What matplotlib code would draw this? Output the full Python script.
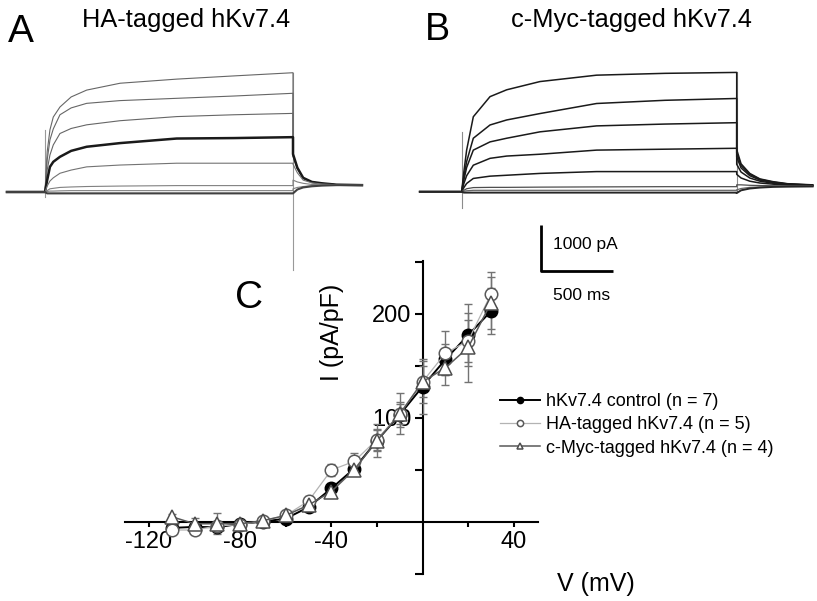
import matplotlib
matplotlib.use("Agg")
import matplotlib.pyplot as plt

plt.rcParams["font.family"] = ["Liberation Sans", "DejaVu Sans"]
plt.rcParams["axes.unicode_minus"] = False

# ---------------- panel C: I-V relation ----------------
voltage = [-110, -100, -90, -80, -70, -60, -50, -40, -30, -20, -10, 0, 10, 20, 30]

control_mean = [-6, -5, -5.4, -2, 0, 3, 14, 32, 51, 78, 103, 130, 156, 179.5, 202.5]
control_sem = [3, 3, 4, 2, 2, 2, 3, 5, 6, 10, 12, 26, 15, 30, 22]

ha_mean = [-8, -8, -4, -3, 1, 6, 20, 49.7, 58, 79, 104, 134.6, 162, 174, 219]
ha_sem = [3, 3, 3, 2, 2, 2, 5, 6, 8, 10, 20, 20, 21, 20, 21]

myc_mean = [4.8, -2, -2, -2, 1, 6, 16, 29, 50, 78, 103.5, 134.6, 148, 167.6, 210.6]
myc_sem = [3, 6, 10, 2, 2, 2, 3, 4, 5, 16, 10, 15, 17, 33, 25]

legend_labels = ["hKv7.4 control (n = 7)", "HA-tagged hKv7.4 (n = 5)",
                 "c-Myc-tagged hKv7.4 (n = 4)"]

# ---------------- panel A: HA-tagged traces (ms, pA) ----------------
a_pre = -262
a_step_end = 1708
a_t = [0, 15, 34, 57, 103, 180, 287, 517, 907, 1300, 1708]
a_traces = [
    [0, 880, 1360, 1640, 1860, 2080, 2230, 2380, 2470, 2540, 2610],
    [0, 700, 1140, 1380, 1690, 1840, 1940, 2000, 2050, 2100, 2160],
    [0, 480, 810, 1030, 1280, 1390, 1470, 1560, 1650, 1690, 1720],
    [0, 260, 550, 660, 770, 900, 990, 1070, 1170, 1180, 1200],
    [0, 130, 240, 310, 410, 480, 550, 590, 630, 630, 630],
    [0, 30, 70, 80, 100, 110, 120, 130, 140, 140, 140],
    [0, 10, 20, 20, 25, 30, 30, 30, 30, 30, 30],
    [0, -30, -30, -30, -30, -30, -30, -30, -30, -30, -30],
]
a_tail_t = [0, 30, 70, 130, 200, 300, 475]
a_tails = [
    [830, 530, 310, 220, 190, 160, 150],
    [800, 520, 305, 220, 185, 160, 150],
    [780, 510, 300, 215, 185, 160, 150],
    [830, 530, 310, 220, 190, 160, 150],
    [610, 420, 260, 200, 175, 160, 150],
    [260, 220, 190, 165, 160, 155, 150],
    [70, 100, 120, 140, 145, 150, 150],
    [-30, 55, 100, 125, 140, 150, 150],
]
a_on_artifact = [-110, 1360]
a_off_artifact = [-1710, 2610]

# ---------------- panel B: c-Myc-tagged traces (ms, pA) ----------------
b_pre = -289
b_step_end = 1894
b_t = [0, 15, 34, 80, 195, 310, 539, 929, 1400, 1894]
b_traces = [
    [0, 440, 910, 1640, 2080, 2230, 2410, 2550, 2590, 2610],
    [0, 330, 660, 1170, 1460, 1570, 1710, 1930, 2000, 2040],
    [0, 260, 530, 910, 1090, 1170, 1310, 1440, 1480, 1510],
    [0, 180, 350, 580, 730, 780, 820, 910, 930, 950],
    [0, 90, 180, 290, 340, 360, 400, 440, 440, 440],
    [0, 30, 65, 90, 95, 95, 100, 105, 110, 110],
    [0, 10, 20, 30, 30, 30, 30, 30, 30, 30],
    [0, -20, -20, -20, -20, -20, -20, -20, -20, -20],
]
b_tail_t = [0, 30, 90, 160, 250, 350, 523]
b_tails = [
    [920, 610, 400, 280, 220, 175, 150],
    [850, 570, 380, 270, 210, 170, 145],
    [760, 520, 350, 255, 200, 165, 140],
    [600, 430, 300, 230, 185, 160, 135],
    [380, 300, 230, 190, 165, 145, 130],
    [150, 150, 140, 135, 130, 125, 125],
    [40, 70, 95, 105, 115, 120, 120],
    [-30, 30, 70, 90, 105, 110, 115],
]
b_on_artifact = [-360, 1310]
b_off_artifact = [0, 2610]

scale_pa = 1000
scale_ms = 500

W, H = 817, 601
fig = plt.figure(figsize=(W / 100, H / 100), dpi=100)


def px_axes(left, top, right, bottom):
    return fig.add_axes([left / W, 1 - bottom / H, (right - left) / W, (bottom - top) / H])


def draw_traces(ax, pre, t_act, traces, step_end, tail_t, tails, colors, widths):
    for amp, tail, c, lw in zip(traces, tails, colors, widths):
        x = [pre, 0] + t_act + [step_end + t for t in tail_t]
        y = [0, 0] + amp + tail
        ax.plot(x, y, color=c, lw=lw, solid_joinstyle="round")


# pixel scale of the recordings: 500 ms = 72.6 px, 1000 pA = 45.7 px
PX_MS = 0.1452
PX_PA = 0.0457

# panel A
ax_a = px_axes(0, 45, 410, 280)
x0, y0 = 45, 192
ax_a.set_xlim((0 - x0) / PX_MS, (410 - x0) / PX_MS)
ax_a.set_ylim((y0 - 280) / PX_PA, (y0 - 45) / PX_PA)
ax_a.axis("off")
ax_a.plot([0, 0], a_on_artifact, color="0.6", lw=0.8)
ax_a.plot([a_step_end, a_step_end], a_off_artifact, color="0.6", lw=0.8)
draw_traces(ax_a, a_pre, a_t, a_traces, a_step_end, a_tail_t, a_tails,
            ["0.4", "0.4", "0.4", "0.1", "0.45", "0.5", "0.5", "0.25"],
            [0.8, 0.8, 0.8, 1.8, 0.8, 0.8, 0.8, 1.5])

# panel B
ax_b = px_axes(410, 45, 817, 310)
x0, y0 = 461.7, 191.7
ax_b.set_xlim((410 - x0) / PX_MS, (817 - x0) / PX_MS)
ax_b.set_ylim((y0 - 310) / PX_PA, (y0 - 45) / PX_PA)
ax_b.axis("off")
ax_b.plot([0, 0], b_on_artifact, color="0.55", lw=0.8)
ax_b.plot([b_step_end, b_step_end], b_off_artifact, color="0.55", lw=0.8)
draw_traces(ax_b, b_pre, b_t, b_traces, b_step_end, b_tail_t, b_tails,
            ["0.1"] * 5 + ["0.3", "0.4", "0.15"],
            [1.1, 1.1, 1.1, 1.1, 1.1, 0.9, 0.9, 1.4])

# scale bar
sb_t, sb_i = 544, -1729
ax_b.plot([sb_t, sb_t, sb_t + scale_ms], [sb_i + scale_pa, sb_i, sb_i],
          color="black", lw=2.0, solid_capstyle="butt")
ax_b.text(sb_t + 85, sb_i + 563, f"{scale_pa} pA", fontsize=12.5, ha="left", va="center")
ax_b.text(sb_t + 85, sb_i - 553, f"{scale_ms} ms", fontsize=12.5, ha="left", va="center")

# titles and panel letters
fig.text(186 / W, 1 - 26.7 / H, "HA-tagged hKv7.4", fontsize=18.3, ha="center", va="baseline")
fig.text(631 / W, 1 - 27.5 / H, "c-Myc-tagged hKv7.4", fontsize=18.3, ha="center", va="baseline")
fig.text(8 / W, 1 - 41.7 / H, "A", fontsize=28, ha="left", va="baseline")
fig.text(425 / W, 1 - 40.5 / H, "B", fontsize=27, ha="left", va="baseline")
fig.text(235 / W, 1 - 307.5 / H, "C", fontsize=28, ha="left", va="baseline")

# panel C
ax_c = px_axes(125, 260.7, 538, 574.3)
ax_c.set_xlim(-130.5, 50.6)
ax_c.set_ylim(-50.6, 251)
ax_c.patch.set_alpha(0)
for s in ("top", "right"):
    ax_c.spines[s].set_visible(False)
ax_c.spines["left"].set_position(("data", 0))
ax_c.spines["bottom"].set_position(("data", 0))
for s in ("left", "bottom"):
    ax_c.spines[s].set_linewidth(1.5)

ax_c.set_xticks([-120, -80, -40, 40])
ax_c.set_xticks([-100, -60, -20, 20], minor=True)
ax_c.set_yticks([100, 200])
ax_c.set_yticks([-50, 50, 150, 250], minor=True)
ax_c.tick_params(axis="x", which="both", direction="out", length=3.5, width=1.5,
                 labelsize=17, pad=3)
ax_c.tick_params(axis="y", which="both", direction="out", length=6, width=1.5,
                 labelsize=17, pad=2)

err_kw = dict(fmt="none", ecolor="0.45", elinewidth=1, capsize=3, capthick=1)
ax_c.errorbar(voltage, control_mean, yerr=control_sem, zorder=3, **err_kw)
ax_c.errorbar(voltage, ha_mean, yerr=ha_sem, zorder=3, **err_kw)
ax_c.errorbar(voltage, myc_mean, yerr=myc_sem, zorder=3, **err_kw)

h_ctrl, = ax_c.plot(voltage, control_mean, color="black", lw=1.4, marker="o", ms=9,
                    mfc="black", mec="black", zorder=4, clip_on=False)
h_ha, = ax_c.plot(voltage, ha_mean, color="0.7", lw=0.9, marker="o", ms=9,
                  mfc="white", mec="0.35", mew=1.1, zorder=5, clip_on=False)
h_myc, = ax_c.plot(voltage, myc_mean, color="0.35", lw=1.1, marker="^", ms=10,
                   mfc="white", mec="0.3", mew=1.1, zorder=6, clip_on=False)

ax_c.legend([h_ctrl, h_ha, h_myc], legend_labels, loc="upper left",
            bbox_to_anchor=(500 / W, 1 - 393 / H), bbox_transform=fig.transFigure,
            frameon=False, fontsize=13, markerscale=0.5, handlelength=2.2,
            handletextpad=0.35, labelspacing=0.35, borderpad=0, borderaxespad=0)

fig.text(331.7 / W, 1 - 332.7 / H, "I (pA/pF)", fontsize=18, rotation=90,
         ha="center", va="center")
fig.text(557 / W, 1 - 590.7 / H, "V (mV)", fontsize=18, ha="left", va="baseline")

fig.savefig("out.png", dpi=100)
